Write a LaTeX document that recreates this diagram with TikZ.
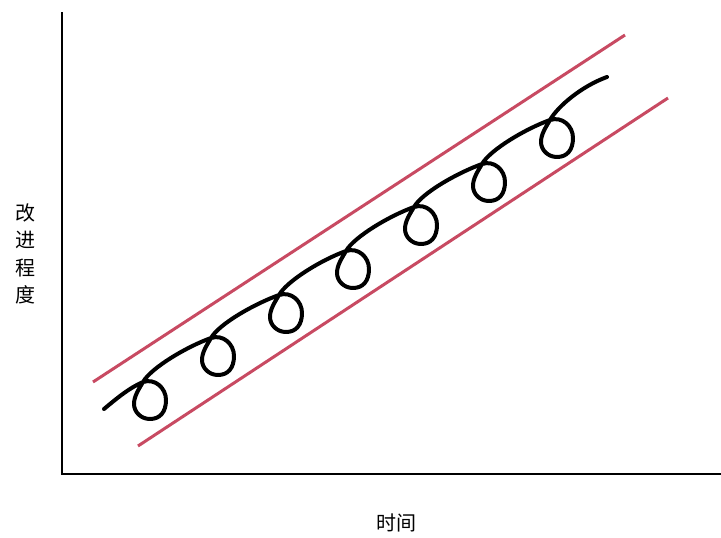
\documentclass[tikz,border=0pt]{standalone}
\usepackage{fontspec}
\newfontfamily\cjk{Noto Sans CJK SC}
\definecolor{bandred}{RGB}{200,74,98}

\begin{document}
\begin{tikzpicture}[x=1pt,y=-1pt,
    axis/.style={line width=2.8pt},
    band/.style={bandred,line width=3pt},
    curl/.style={line width=4pt,line cap=round,line join=round},
    lbl/.style={font=\cjk\fontsize{20}{27.5}\selectfont,align=center,inner sep=0pt}]
    \useasboundingbox (0,0) rectangle (721,538);
    % axes
    \coordinate (ytop) at (62,12);
    \coordinate (O) at (62,474);
    \coordinate (xend) at (721,474);
    \draw[axis] (ytop) -- (O) -- (xend);
    \node[lbl] (ylab) at (26,254) {改\\进\\程\\度};
    \node[lbl] (xlab) at (396,523) {时间};
    % band
    \coordinate (u1) at (93,382); \coordinate (u2) at (625,35);
    \coordinate (l1) at (138,446); \coordinate (l2) at (668,98);
    \draw[band] (u1) -- (u2);
    \draw[band] (l1) -- (l2);
    % progress curve: one loop below each crossing point, then an arc to the next
    \coordinate (head) at (104,409);
    \coordinate (h1) at (116,399); \coordinate (h2) at (129,388);
    \coordinate (c1) at (143,382);
    \draw[curl] (head) .. controls (h1) and (h2) .. (c1)
      \foreach \cx/\cy/\nx/\ny in {143/382/211/338, 211/338/279/295,
          279/295/346/251, 346/251/414/207, 414/207/482/164,
          482/164/550/120, 550/120/607/77} {
        .. controls ({\cx+12},{\cy-4}) and ({\cx+23},{\cy+6}) .. ({\cx+23},{\cy+18})
        .. controls ({\cx+23},{\cy+30}) and ({\cx+17},{\cy+37}) .. ({\cx+7},{\cy+37})
        .. controls ({\cx-2},{\cy+37}) and ({\cx-9},{\cy+30}) .. ({\cx-9},{\cy+22})
        .. controls ({\cx-9},{\cy+14}) and ({\cx-4},{\cy+7}) .. (\cx,\cy)
        .. controls ({\cx+8},{\cy-14}) and ({\nx-25},{\ny+9}) .. (\nx,\ny)
      };
\end{tikzpicture}
\end{document}
